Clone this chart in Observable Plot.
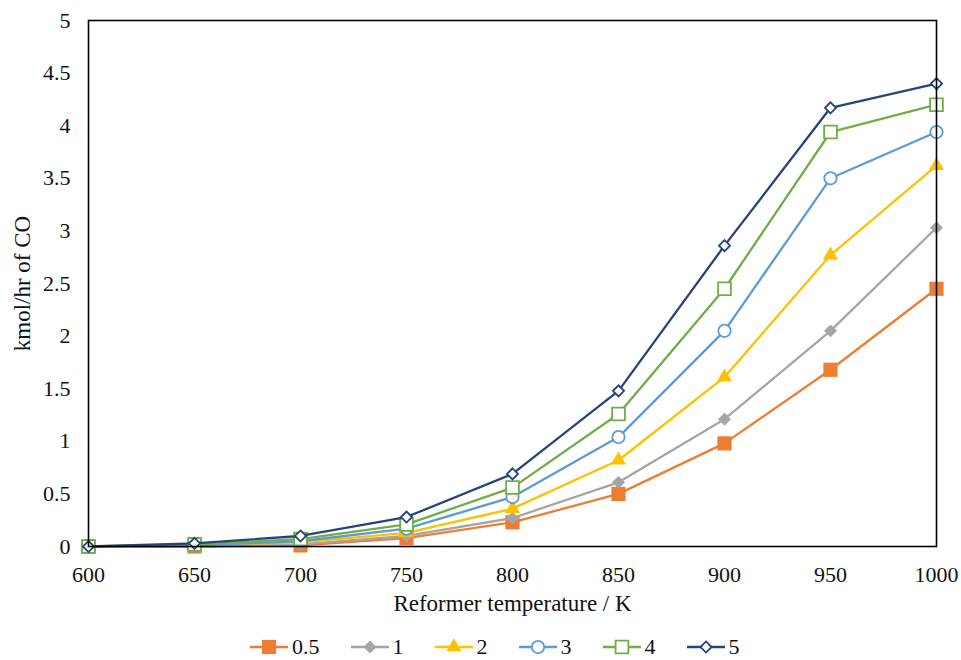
<!DOCTYPE html>
<html>
<head>
<meta charset="utf-8">
<script src="https://cdn.jsdelivr.net/npm/d3@7"></script>
<script src="https://cdn.jsdelivr.net/npm/@observablehq/plot@0.6"></script>
<style>
  html, body { margin: 0; padding: 0; background: #fff; }
  #wrap { position: relative; width: 961px; height: 660px; overflow: hidden; }
  #legend {
    position: absolute; left: 249px; top: 635px; height: 24px;
    display: flex; align-items: center; gap: 30px;
    font-family: "Liberation Serif", "Times New Roman", Times, serif;
    font-size: 22px; color: #111;
  }
  .item { display: flex; align-items: center; gap: 3px; }
  .item svg { display: block; }
  #chart svg text { font-family: "Liberation Serif", "Times New Roman", Times, serif; }
  #chart svg g[aria-label="x-axis label"] text,
  #chart svg g[aria-label="y-axis label"] text { font-size: 23px; }
</style>
</head>
<body>
<div id="wrap">
  <div id="chart"></div>
  <div id="legend"></div>
</div>
<script>
// Reformer temperature (K)
const temps = [600, 650, 700, 750, 800, 850, 900, 950, 1000];

// CO production (kmol/hr) for each series
const s05 = [0, 0, 0.01, 0.08, 0.23, 0.50, 0.98, 1.68, 2.45];
const s1  = [0, 0, 0.02, 0.10, 0.27, 0.61, 1.21, 2.05, 3.03];
const s2  = [0, 0.01, 0.04, 0.13, 0.36, 0.82, 1.61, 2.77, 3.62];
const s3  = [0, 0.01, 0.05, 0.17, 0.47, 1.04, 2.05, 3.50, 3.94];
const s4  = [0, 0.02, 0.07, 0.21, 0.56, 1.26, 2.45, 3.94, 4.20];
const s5  = [0, 0.03, 0.10, 0.28, 0.69, 1.48, 2.86, 4.17, 4.40];

const seriesNames = ["0.5", "1", "2", "3", "4", "5"];
const seriesValues = [s05, s1, s2, s3, s4, s5];

const xTicks = [600, 650, 700, 750, 800, 850, 900, 950, 1000];
const yTicks = [0, 0.5, 1, 1.5, 2, 2.5, 3, 3.5, 4, 4.5, 5];

// marker styling per series
const styles = [
  {color: "#ED7D31", symbol: "square",   r: 8.0, open: false},
  {color: "#A5A5A5", symbol: "diamond2", r: 5.8, open: false},
  {color: "#FFC000", symbol: "triangle", r: 5.6, open: false},
  {color: "#5B9BD5", symbol: "circle",   r: 6.2, open: true},
  {color: "#70AD47", symbol: "square",   r: 7.2, open: true},
  {color: "#264478", symbol: "diamond2", r: 5.0, open: true}
];

const marks = [];
seriesNames.forEach((name, k) => {
  const st = styles[k];
  const rows = temps.map((t, i) => ({t, v: seriesValues[k][i], name}));
  marks.push(Plot.line(rows, {x: "t", y: "v", stroke: st.color, strokeWidth: 2.3}));
  marks.push(Plot.dot(rows, {
    x: "t", y: "v", symbol: st.symbol, r: st.r,
    fill: st.open ? "white" : st.color,
    stroke: st.color, strokeWidth: st.open ? 1.8 : 0
  }));
});

const chart = Plot.plot({
  width: 961,
  height: 625,
  marginLeft: 88,
  marginRight: 25,
  marginTop: 20,
  marginBottom: 79,
  style: {
    fontSize: "22px",
    color: "#111",
    background: "white",
    overflow: "visible"
  },
  x: {domain: [600, 1000]},
  y: {domain: [0, 5]},
  marks: [
    Plot.axisX({
      ticks: xTicks, tickSize: 0, tickPadding: 20, tickFormat: d => String(d),
      label: "Reformer temperature / K", labelAnchor: "center", labelArrow: "none", labelOffset: 64
    }),
    Plot.axisY({
      ticks: yTicks, tickSize: 0, tickPadding: 18, tickFormat: d => String(d),
      label: "kmol/hr of CO", labelAnchor: "center", labelArrow: "none", labelOffset: 75
    }),
    ...marks,
    Plot.frame({stroke: "black", strokeWidth: 1.6})
  ]
});
document.getElementById("chart").appendChild(chart);

// legend below the plot
const legend = d3.select("#legend");
seriesNames.forEach((name, k) => {
  const st = styles[k];
  const item = legend.append("div").attr("class", "item");
  const svg = item.append("svg").attr("width", 40).attr("height", 22);
  svg.append("line").attr("x1", 1).attr("x2", 39).attr("y1", 11).attr("y2", 11)
    .attr("stroke", st.color).attr("stroke-width", 2.3);
  const sym = {square: d3.symbolSquare, diamond2: d3.symbolDiamond2, triangle: d3.symbolTriangle, circle: d3.symbolCircle}[st.symbol];
  svg.append("path")
    .attr("transform", "translate(20,11)")
    .attr("d", d3.symbol(sym, Math.PI * st.r * st.r)())
    .attr("fill", st.open ? "white" : st.color)
    .attr("stroke", st.color).attr("stroke-width", st.open ? 1.8 : 0);
  item.append("span").text(name);
});
</script>
</body>
</html>
